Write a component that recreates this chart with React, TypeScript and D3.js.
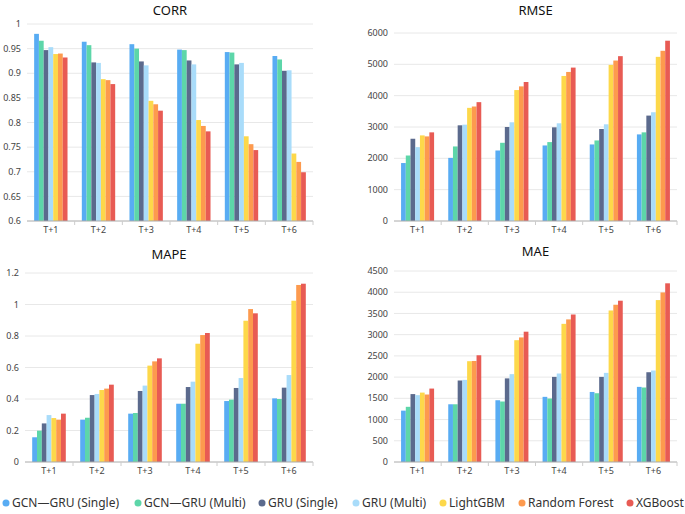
import { useEffect } from "react";
import * as d3 from "d3";

const categories = ["T+1", "T+2", "T+3", "T+4", "T+5", "T+6"];
const seriesNames = [
  "GCN—GRU (Single)",
  "GCN—GRU (Multi)",
  "GRU (Single)",
  "GRU (Multi)",
  "LightGBM",
  "Random Forest",
  "XGBoost",
];
const seriesColors = ["#58acf3", "#5dd6a9", "#5b6a8d", "#a9dcfa", "#fdd84a", "#fd9a4e", "#e85b54"];

// one row per series, one column per horizon
const corr = [
  [0.98, 0.964, 0.959, 0.948, 0.943, 0.935],
  [0.966, 0.957, 0.95, 0.947, 0.942, 0.928],
  [0.947, 0.922, 0.924, 0.926, 0.918, 0.905],
  [0.953, 0.921, 0.916, 0.918, 0.921, 0.906],
  [0.939, 0.888, 0.844, 0.805, 0.772, 0.737],
  [0.94, 0.886, 0.837, 0.793, 0.756, 0.72],
  [0.932, 0.878, 0.824, 0.782, 0.744, 0.699],
];
const rmse = [
  [1850, 2014, 2250, 2411, 2443, 2764],
  [2090, 2379, 2496, 2518, 2571, 2829],
  [2625, 3054, 3000, 2989, 2936, 3364],
  [2357, 3075, 3150, 3118, 3086, 3471],
  [2732, 3611, 4179, 4629, 4982, 5239],
  [2700, 3654, 4296, 4757, 5121, 5432],
  [2829, 3793, 4436, 4896, 5261, 5754],
];
const mape = [
  [0.157, 0.269, 0.307, 0.37, 0.387, 0.404],
  [0.199, 0.281, 0.311, 0.37, 0.396, 0.4],
  [0.245, 0.425, 0.451, 0.476, 0.47, 0.472],
  [0.298, 0.432, 0.485, 0.51, 0.533, 0.552],
  [0.279, 0.457, 0.612, 0.751, 0.897, 1.024],
  [0.269, 0.466, 0.639, 0.806, 0.971, 1.124],
  [0.307, 0.491, 0.658, 0.819, 0.944, 1.132],
];
const mae = [
  [1210, 1360, 1455, 1535, 1650, 1770],
  [1300, 1360, 1425, 1495, 1620, 1755],
  [1600, 1920, 1970, 2005, 2005, 2115],
  [1575, 1935, 2070, 2085, 2100, 2155],
  [1635, 2375, 2870, 3255, 3570, 3815],
  [1590, 2380, 2935, 3360, 3705, 3995],
  [1730, 2515, 3070, 3475, 3800, 4210],
];

const corrTicks = [0.6, 0.65, 0.7, 0.75, 0.8, 0.85, 0.9, 0.95, 1];
const rmseTicks = [0, 1000, 2000, 3000, 4000, 5000, 6000];
const mapeTicks = [0, 0.2, 0.4, 0.6, 0.8, 1, 1.2];
const maeTicks = [0, 500, 1000, 1500, 2000, 2500, 3000, 3500, 4000, 4500];

const FONT = "'Noto Sans', 'DejaVu Sans', sans-serif";

type Frame = { left: number; right: number; top: number; bottom: number };

function Panel({
  title,
  titleY,
  data,
  ticks,
  frame,
}: {
  title: string;
  titleY: number;
  data: number[][];
  ticks: number[];
  frame: Frame;
}) {
  const x = d3.scaleBand<string>().domain(categories).range([frame.left, frame.right]);
  const inner = d3
    .scaleBand<string>()
    .domain(seriesNames)
    .range([0, x.bandwidth()])
    .paddingOuter(1.5);
  const y = d3
    .scaleLinear()
    .domain([ticks[0], ticks[ticks.length - 1]])
    .range([frame.bottom, frame.top]);

  return (
    <g>
      <text
        x={(frame.left + frame.right) / 2}
        y={titleY}
        textAnchor="middle"
        fontSize={13}
        fill="#111"
      >
        {title}
      </text>
      {ticks.map((t) => (
        <g key={t}>
          {t !== ticks[0] && (
            <line x1={frame.left} x2={frame.right} y1={y(t)} y2={y(t)} stroke="#e8e8e8" />
          )}
          <text
            x={frame.left - 6}
            y={y(t)}
            dy="0.35em"
            textAnchor="end"
            fontSize={9}
            fill="#444"
          >
            {String(t)}
          </text>
        </g>
      ))}
      {seriesNames.map((s, si) => (
        <g key={s} fill={seriesColors[si]}>
          {categories.map((c, ci) => (
            <rect
              key={c}
              x={x(c)! + inner(s)!}
              width={inner.bandwidth()}
              y={y(data[si][ci])}
              height={frame.bottom - y(data[si][ci])}
            />
          ))}
        </g>
      ))}
      <line x1={frame.left} x2={frame.right} y1={frame.bottom} y2={frame.bottom} stroke="#aaa" />
      {categories.map((c) => (
        <g key={c}>
          <line
            x1={x(c)! + x.bandwidth()}
            x2={x(c)! + x.bandwidth()}
            y1={frame.bottom}
            y2={frame.bottom + 4}
            stroke="#ccc"
          />
          <text
            x={x(c)! + x.bandwidth() / 2}
            y={frame.bottom + 12}
            textAnchor="middle"
            fontSize={9}
            fill="#444"
          >
            {c}
          </text>
        </g>
      ))}
    </g>
  );
}

const legendX = [12, 144, 268, 362, 449, 528, 636];

export default function App() {
  useEffect(() => {
    document.body.style.margin = "0";
  }, []);

  return (
    <svg width={685} height={514} style={{ display: "block", fontFamily: FONT, background: "#fff" }}>
      <Panel title="CORR" titleY={15} data={corr} ticks={corrTicks} frame={{ left: 27, right: 313, top: 24, bottom: 221 }} />
      <Panel title="RMSE" titleY={15} data={rmse} ticks={rmseTicks} frame={{ left: 394, right: 677, top: 33, bottom: 221 }} />
      <Panel title="MAPE" titleY={259} data={mape} ticks={mapeTicks} frame={{ left: 25, right: 313, top: 273, bottom: 462 }} />
      <Panel title="MAE" titleY={256} data={mae} ticks={maeTicks} frame={{ left: 394, right: 677, top: 271, bottom: 462 }} />
      {seriesNames.map((s, i) => (
        <g key={s}>
          <circle cx={legendX[i] - 6} cy={503} r={3.5} fill={seriesColors[i]} />
          <text x={legendX[i]} y={503} dy="0.35em" fontSize={12} fill="#333">
            {s}
          </text>
        </g>
      ))}
    </svg>
  );
}
